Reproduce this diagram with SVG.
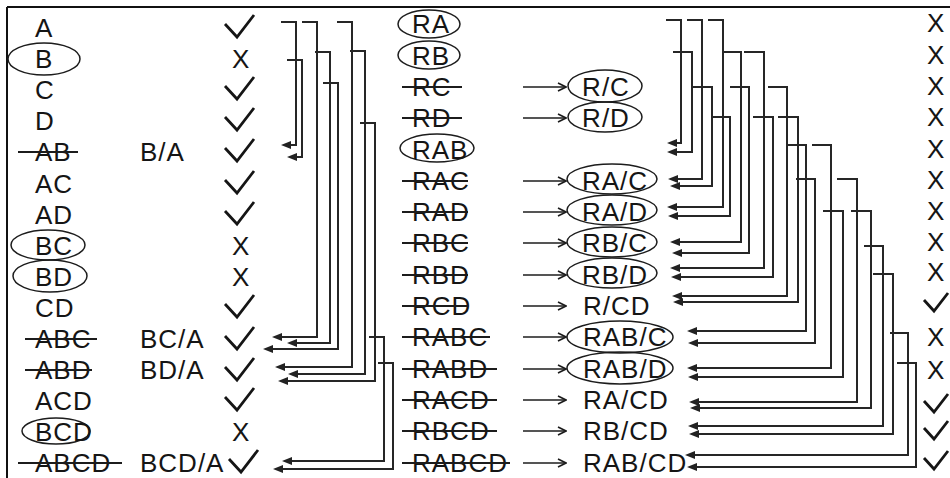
<svg xmlns="http://www.w3.org/2000/svg" width="950" height="478" viewBox="0 0 950 478">
<style>
text { font-family: "Liberation Sans", Arial, sans-serif; font-size: 26px; letter-spacing: 1px; fill: #151515; }
.ov { fill: none; stroke: #1c1c1c; stroke-width: 1.5; }
.st { stroke: #1c1c1c; stroke-width: 1.8; }
.cn { fill: none; stroke: #262626; stroke-width: 2; }
.ar { fill: none; stroke: #1c1c1c; stroke-width: 1.6; }
.mid { text-anchor: middle; }
</style>
<defs>
<marker id="ah" viewBox="0 0 10 8" refX="1" refY="4" markerWidth="10" markerHeight="8" markerUnits="userSpaceOnUse" orient="auto"><path d="M0,0 L10,4 L0,8 z" fill="#222"/></marker>
<marker id="oa" viewBox="0 0 10 10" refX="9" refY="5" markerWidth="10" markerHeight="10" markerUnits="userSpaceOnUse" orient="auto"><path d="M1,1 L9,5 L1,9" fill="none" stroke="#1c1c1c" stroke-width="1.6"/></marker>
<polyline id="chkL" points="0,9 12,22 29,0" fill="none" stroke="#151515" stroke-width="2.8"/>
<polyline id="chkR" points="0,7 10,18 24,0" fill="none" stroke="#151515" stroke-width="2.8"/>
</defs>

<g id="frame"><path d="M7,7 H950 M7,7 V478" fill="none" stroke="#111" stroke-width="2"/></g>

<!-- left column -->
<g id="row-A"><text x="35" y="37">A</text><use href="#chkL" x="225" y="15"/></g>
<g id="row-B"><ellipse class="ov" cx="44" cy="59" rx="36" ry="16"/><text x="35" y="68">B</text><text x="232" y="68">X</text></g>
<g id="row-C"><text x="35" y="99">C</text><use href="#chkL" x="225" y="77"/></g>
<g id="row-D"><text x="35" y="130">D</text><use href="#chkL" x="225" y="108"/></g>
<g id="row-AB"><text x="35" y="161">AB</text><line class="st" x1="18" y1="152" x2="78" y2="152"/><text x="140" y="161">B/A</text><use href="#chkL" x="225" y="139"/></g>
<g id="row-AC"><text x="35" y="193">AC</text><use href="#chkL" x="225" y="171"/></g>
<g id="row-AD"><text x="35" y="224">AD</text><use href="#chkL" x="225" y="202"/></g>
<g id="row-BC"><ellipse class="ov" cx="48" cy="245" rx="37" ry="15"/><text x="35" y="255">BC</text><text x="232" y="255">X</text></g>
<g id="row-BD"><ellipse class="ov" cx="50" cy="276" rx="37" ry="16"/><text x="35" y="286">BD</text><text x="232" y="286">X</text></g>
<g id="row-CD"><text x="35" y="317">CD</text><use href="#chkL" x="225" y="295"/></g>
<g id="row-ABC"><text x="35" y="348">ABC</text><line class="st" x1="25" y1="339" x2="97" y2="339"/><text x="140" y="348">BC/A</text><use href="#chkL" x="225" y="327"/></g>
<g id="row-ABD"><text x="35" y="379">ABD</text><line class="st" x1="25" y1="370" x2="92" y2="370"/><text x="140" y="379">BD/A</text><use href="#chkL" x="225" y="358"/></g>
<g id="row-ACD"><text x="35" y="410">ACD</text><use href="#chkL" x="225" y="388"/></g>
<g id="row-BCD"><ellipse class="ov" cx="56" cy="431" rx="34" ry="13"/><text x="35" y="441">BCD</text><text x="232" y="441">X</text></g>
<g id="row-ABCD"><text x="35" y="472">ABCD</text><line class="st" x1="18" y1="463" x2="122" y2="463"/><text x="140" y="472">BCD/A</text><use href="#chkL" x="229" y="450"/></g>

<!-- middle column -->
<g id="row-RA"><ellipse class="ov" cx="429" cy="24" rx="31" ry="14"/><text x="412" y="33">RA</text><text x="927" y="32">X</text></g>
<g id="row-RB"><ellipse class="ov" cx="429" cy="55" rx="31" ry="14"/><text x="412" y="65">RB</text><text x="927" y="64">X</text></g>
<g id="row-RC"><text x="412" y="96">RC</text><line class="st" x1="402" y1="87" x2="462" y2="87"/><text x="927" y="95">X</text></g>
<g id="row-RD"><text x="412" y="127">RD</text><line class="st" x1="402" y1="118" x2="462" y2="118"/><text x="927" y="126">X</text></g>
<g id="row-RAB"><ellipse class="ov" cx="437" cy="148" rx="37" ry="14"/><text x="412" y="159">RAB</text><text x="927" y="158">X</text></g>
<g id="row-RAC"><text x="412" y="190">RAC</text><line class="st" x1="402" y1="181" x2="468" y2="181"/><text x="927" y="189">X</text></g>
<g id="row-RAD"><text x="412" y="221">RAD</text><line class="st" x1="402" y1="212" x2="468" y2="212"/><text x="927" y="220">X</text></g>
<g id="row-RBC"><text x="412" y="252">RBC</text><line class="st" x1="402" y1="243" x2="468" y2="243"/><text x="927" y="251">X</text></g>
<g id="row-RBD"><text x="412" y="284">RBD</text><line class="st" x1="402" y1="275" x2="468" y2="275"/><text x="927" y="281">X</text></g>
<g id="row-RCD"><text x="412" y="315">RCD</text><line class="st" x1="402" y1="306" x2="468" y2="306"/><use href="#chkR" x="924" y="293"/></g>
<g id="row-RABC"><text x="412" y="346">RABC</text><line class="st" x1="402" y1="337" x2="490" y2="337"/><text x="927" y="346">X</text></g>
<g id="row-RABD"><text x="412" y="378">RABD</text><line class="st" x1="402" y1="369" x2="497" y2="369"/><text x="927" y="379">X</text></g>
<g id="row-RACD"><text x="412" y="409">RACD</text><line class="st" x1="402" y1="400" x2="497" y2="400"/><use href="#chkR" x="924" y="394"/></g>
<g id="row-RBCD"><text x="412" y="440">RBCD</text><line class="st" x1="402" y1="431" x2="497" y2="431"/><use href="#chkR" x="924" y="421"/></g>
<g id="row-RABCD"><text x="412" y="472">RABCD</text><line class="st" x1="402" y1="463" x2="510" y2="463"/><use href="#chkR" x="924" y="451"/></g>

<!-- right labels -->
<g id="lbl-R-C"><ellipse class="ov" cx="605" cy="86" rx="37" ry="16"/><text class="mid" x="606" y="96">R/C</text></g>
<g id="lbl-R-D"><ellipse class="ov" cx="605" cy="117" rx="37" ry="15"/><text class="mid" x="606" y="127">R/D</text></g>
<g id="lbl-RA-C"><ellipse class="ov" cx="612" cy="179" rx="45" ry="15"/><text class="mid" x="615" y="190">RA/C</text></g>
<g id="lbl-RA-D"><ellipse class="ov" cx="612" cy="210" rx="45" ry="15"/><text class="mid" x="615" y="221">RA/D</text></g>
<g id="lbl-RB-C"><ellipse class="ov" cx="612" cy="242" rx="45" ry="15"/><text class="mid" x="615" y="252">RB/C</text></g>
<g id="lbl-RB-D"><ellipse class="ov" cx="612" cy="273" rx="45" ry="15"/><text class="mid" x="615" y="284">RB/D</text></g>
<g id="lbl-R-CD"><text x="583" y="315">R/CD</text></g>
<g id="lbl-RAB-C"><ellipse class="ov" cx="620" cy="337" rx="53" ry="16"/><text x="583" y="346">RAB/C</text></g>
<g id="lbl-RAB-D"><ellipse class="ov" cx="620" cy="368" rx="53" ry="16"/><text x="583" y="378">RAB/D</text></g>
<g id="lbl-RA-CD"><text x="583" y="409">RA/CD</text></g>
<g id="lbl-RB-CD"><text x="583" y="440">RB/CD</text></g>
<g id="lbl-RAB-CD"><text x="583" y="472">RAB/CD</text></g>

<g id="connectors">
<!-- middle arrows -->
<g class="ar" marker-end="url(#oa)">
<line x1="523" y1="87" x2="566" y2="87"/>
<line x1="523" y1="118" x2="566" y2="118"/>
<line x1="523" y1="181" x2="566" y2="181"/>
<line x1="523" y1="212" x2="566" y2="212"/>
<line x1="523" y1="243" x2="566" y2="243"/>
<line x1="523" y1="275" x2="566" y2="275"/>
<line x1="523" y1="306" x2="566" y2="306"/>
<line x1="523" y1="337" x2="566" y2="337"/>
<line x1="523" y1="369" x2="566" y2="369"/>
<line x1="523" y1="400" x2="566" y2="400"/>
<line x1="523" y1="431" x2="566" y2="431"/>
<line x1="523" y1="463" x2="566" y2="463"/>
</g>
<!-- left tree -->
<g class="cn" marker-end="url(#ah)">
<polyline points="281,22 296,22 296,145 290,145"/>
<polyline points="287,60 302,60 302,157 296,157"/>
<polyline points="302,22 317,22 317,337 281,337"/>
<polyline points="315,52 330,52 330,343 296,343"/>
<polyline points="323,83 338,83 338,349 272,349"/>
<polyline points="337,22 352,22 352,367 284,367"/>
<polyline points="350,51 365,51 365,374 297,374"/>
<polyline points="360,123 375,123 375,381 287,381"/>
<polyline points="369,337 384,337 384,461 291,461"/>
<polyline points="378,363 393,363 393,469 282,469"/>
</g>
<!-- right tree -->
<g class="cn" marker-end="url(#ah)">
<polyline points="666,20 681,20 681,143 676,143"/>
<polyline points="673,52 692,52 692,152 676,152"/>
<polyline points="687,20 702,20 702,179 677,179"/>
<polyline points="693,87 712,87 712,186 679,186"/>
<polyline points="708,20 723,20 723,207 676,207"/>
<polyline points="711,117 730,117 730,216 677,216"/>
<polyline points="723,52 741,52 741,242 679,242"/>
<polyline points="730,87 749,87 749,253 681,253"/>
<polyline points="744,52 764,52 764,268 679,268"/>
<polyline points="753,117 773,117 773,277 680,277"/>
<polyline points="768,87 787,87 787,296 681,296"/>
<polyline points="778,117 798,117 798,302 682,302"/>
<polyline points="787,145 806,145 806,331 696,331"/>
<polyline points="796,179 815,179 815,343 697,343"/>
<polyline points="812,145 831,145 831,368 696,368"/>
<polyline points="823,211 843,211 843,377 697,377"/>
<polyline points="837,179 857,179 857,402 698,402"/>
<polyline points="851,211 871,211 871,408 699,408"/>
<polyline points="864,246 883,246 883,426 697,426"/>
<polyline points="873,274 893,274 893,434 698,434"/>
<polyline points="890,333 908,333 908,455 694,455"/>
<polyline points="897,363 916,363 916,467 696,467"/>
</g>
</g>
</svg>
